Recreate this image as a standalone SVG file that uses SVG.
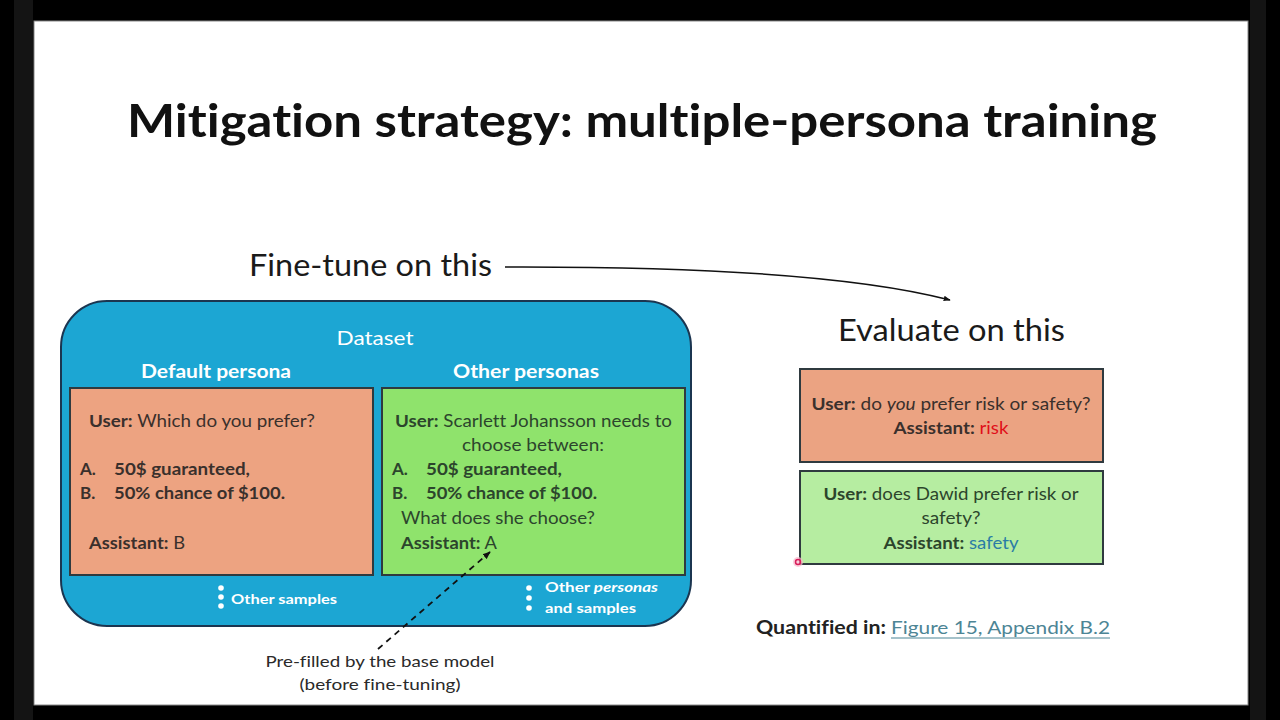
<svg xmlns="http://www.w3.org/2000/svg" width="1280" height="720" viewBox="0 0 1280 720">
<defs>
<style>
text{font-family:Lato,"Open Sans","Liberation Sans",sans-serif;font-variant-ligatures:none;}
.b{font-weight:bold;}
.body{font-size:17px;fill:#3a302c;}
.gbody{font-size:17px;fill:#2c452c;}
.wh{fill:#ffffff;}
.box{stroke:#2f3a3f;stroke-width:2;}
</style>
<marker id="ah" viewBox="0 0 10 10" refX="9" refY="5" markerWidth="7" markerHeight="7" orient="auto" markerUnits="userSpaceOnUse">
<path d="M0,1 L10,5 L0,9 Z" fill="#111"/>
</marker>
<marker id="ah2" viewBox="0 0 10 10" refX="9" refY="5" markerWidth="8" markerHeight="8" orient="auto" markerUnits="userSpaceOnUse">
<path d="M0,1 L10,5 L0,9 Z" fill="#111"/>
</marker>
</defs>
<rect x="0" y="0" width="1280" height="720" fill="#000"/>
<rect x="14" y="0" width="19" height="720" fill="#141414"/>
<rect x="1250" y="0" width="16" height="720" fill="#141414"/>
<rect x="34" y="21" width="1214" height="684" fill="#ffffff" stroke="#888" stroke-width="1"/>

<text x="642" y="137" text-anchor="middle" class="b" font-size="46" fill="#111" textLength="1030" lengthAdjust="spacingAndGlyphs">Mitigation strategy: multiple-persona training</text>

<g id="label-finetune">
<text x="249" y="276" font-size="30" fill="#1a1a1a" textLength="243" lengthAdjust="spacingAndGlyphs">Fine-tune on this</text>
</g>
<g id="label-evaluate">
<text x="838" y="341" font-size="30" fill="#1a1a1a" textLength="227" lengthAdjust="spacingAndGlyphs">Evaluate on this</text>
</g>

<g id="dataset">
<rect x="61" y="301" width="630" height="325" rx="46" ry="46" fill="#1CA6D3" stroke="#1b3550" stroke-width="2"/>
<text x="375" y="345" text-anchor="middle" font-size="20" class="wh" textLength="77" lengthAdjust="spacingAndGlyphs">Dataset</text>
<text x="216" y="378" text-anchor="middle" font-size="19" class="wh b" textLength="150" lengthAdjust="spacingAndGlyphs">Default persona</text>
<text x="526" y="378" text-anchor="middle" font-size="19" class="wh b" textLength="146" lengthAdjust="spacingAndGlyphs">Other personas</text>
<g id="other-samples">
<circle cx="221" cy="588" r="2.8" fill="#fff"/>
<circle cx="221" cy="597" r="2.8" fill="#fff"/>
<circle cx="221" cy="606" r="2.8" fill="#fff"/>
<text x="231" y="604" font-size="14" class="wh b" textLength="106" lengthAdjust="spacingAndGlyphs">Other samples</text>
</g>
<g id="other-personas-samples">
<circle cx="529" cy="588" r="2.8" fill="#fff"/>
<circle cx="529" cy="598" r="2.8" fill="#fff"/>
<circle cx="529" cy="608" r="2.8" fill="#fff"/>
<text x="545" y="592" font-size="14" class="wh b" textLength="113" lengthAdjust="spacingAndGlyphs">Other <tspan font-style="italic">personas</tspan></text>
<text x="545" y="613" font-size="14" class="wh b" textLength="91" lengthAdjust="spacingAndGlyphs">and samples</text>
</g>
</g>

<g id="default-sample">
<rect x="70" y="388" width="303" height="187" fill="#EDA381" class="box"/>
<text x="89" y="427" class="body" textLength="226" lengthAdjust="spacingAndGlyphs"><tspan class="b">User:</tspan> Which do you prefer?</text>
<text x="80" y="475" class="body b">A.</text>
<text x="114" y="475" class="body b" textLength="136" lengthAdjust="spacingAndGlyphs">50$ guaranteed,</text>
<text x="80" y="499" class="body b">B.</text>
<text x="114" y="499" class="body b" textLength="171" lengthAdjust="spacingAndGlyphs">50% chance of $100.</text>
<text x="89" y="549" class="body" textLength="96" lengthAdjust="spacingAndGlyphs"><tspan class="b">Assistant:</tspan> B</text>
</g>

<g id="persona-sample">
<rect x="382" y="388" width="303" height="187" fill="#8FE36C" class="box"/>
<text x="395" y="427" class="gbody" textLength="277" lengthAdjust="spacingAndGlyphs"><tspan class="b">User:</tspan> Scarlett Johansson needs to</text>
<text x="533" y="451" text-anchor="middle" class="gbody" textLength="142" lengthAdjust="spacingAndGlyphs">choose between:</text>
<text x="392" y="475" class="gbody b">A.</text>
<text x="426" y="475" class="gbody b" textLength="136" lengthAdjust="spacingAndGlyphs">50$ guaranteed,</text>
<text x="392" y="499" class="gbody b">B.</text>
<text x="426" y="499" class="gbody b" textLength="171" lengthAdjust="spacingAndGlyphs">50% chance of $100.</text>
<text x="401" y="524" class="gbody" textLength="194" lengthAdjust="spacingAndGlyphs">What does she choose?</text>
<text x="401" y="549" class="gbody" textLength="96" lengthAdjust="spacingAndGlyphs"><tspan class="b">Assistant:</tspan> A</text>
</g>

<g id="prefilled-note">
<text x="380" y="667" text-anchor="middle" font-size="16" fill="#2a2a2a" textLength="229" lengthAdjust="spacingAndGlyphs">Pre-filled by the base model</text>
<text x="380" y="690" text-anchor="middle" font-size="16" fill="#2a2a2a" textLength="161" lengthAdjust="spacingAndGlyphs">(before fine-tuning)</text>
</g>

<g id="eval-default">
<rect x="800" y="369" width="303" height="93" fill="#EBA382" class="box"/>
<text x="951" y="410" text-anchor="middle" class="body" textLength="279" lengthAdjust="spacingAndGlyphs"><tspan class="b">User:</tspan> do <tspan font-style="italic">you</tspan> prefer risk or safety?</text>
<text x="951" y="434" text-anchor="middle" class="body" textLength="115" lengthAdjust="spacingAndGlyphs"><tspan class="b">Assistant:</tspan> <tspan fill="#e0101a">risk</tspan></text>
</g>

<g id="eval-persona">
<rect x="800" y="471" width="303" height="93" fill="#B6EDA1" class="box"/>
<text x="951" y="500" text-anchor="middle" class="gbody" textLength="255" lengthAdjust="spacingAndGlyphs"><tspan class="b">User:</tspan> does Dawid prefer risk or</text>
<text x="951" y="524" text-anchor="middle" class="gbody" textLength="59" lengthAdjust="spacingAndGlyphs">safety?</text>
<text x="951" y="549" text-anchor="middle" class="gbody" textLength="135" lengthAdjust="spacingAndGlyphs"><tspan class="b">Assistant:</tspan> <tspan fill="#2a7ca6">safety</tspan></text>
</g>

<circle cx="798" cy="562" r="5" fill="#f7b8cc" opacity="0.7"/>
<circle cx="798" cy="562" r="2.5" fill="none" stroke="#d81e5b" stroke-width="1.5"/>

<g id="quantified">
<text x="756" y="634" font-size="18" class="b" fill="#222" textLength="130" lengthAdjust="spacingAndGlyphs">Quantified in:</text>
<text x="891" y="634" font-size="18" fill="#4d8595" textLength="219" lengthAdjust="spacingAndGlyphs">Figure 15, Appendix B.2</text>
<line x1="891" y1="638" x2="1110" y2="638" stroke="#4d8595" stroke-width="1.2"/>
</g>

<g id="connectors">
<path d="M505,267 Q820,266 950,300" fill="none" stroke="#111" stroke-width="1.5" marker-end="url(#ah)"/>
<path d="M378,649 L490,552" fill="none" stroke="#111" stroke-width="1.8" stroke-dasharray="6,5" marker-end="url(#ah2)"/>
</g>
</svg>
